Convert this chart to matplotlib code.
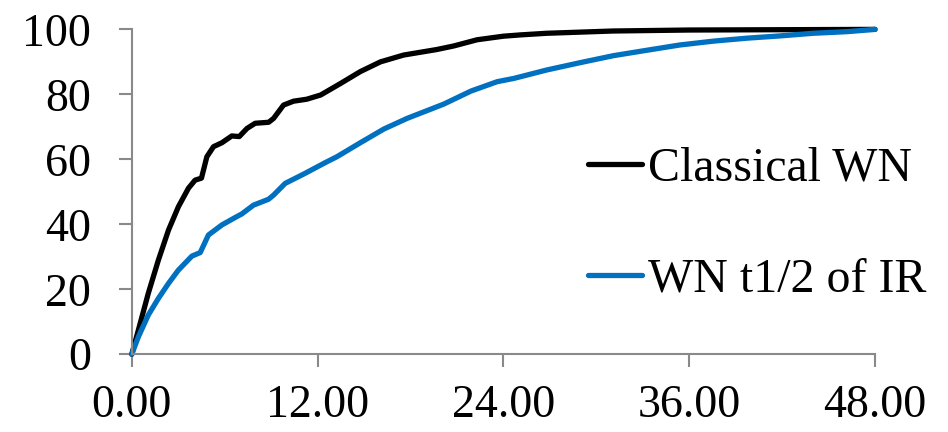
import matplotlib.pyplot as plt

# time (h) and cumulative % for each curve
t_classical = [0, 0.43, 1.07, 1.72, 2.37, 3.01, 3.66, 4.09, 4.5, 4.85, 5.28, 5.82, 6.46, 6.94,
               7.44, 7.97, 8.84, 9.16, 9.8, 10.45, 11.3, 12.2, 13.5, 14.76, 16.06, 17.56, 19.7,
               20.8, 22.3, 24.0, 25.1, 26.8, 31.1, 36.0, 42.0, 48.0]
classical = [0, 7.5, 18.8, 29, 38.2, 45.4, 51.1, 53.6, 54.2, 60.8, 63.9, 65.1, 67.2, 67.0,
             69.5, 71.1, 71.4, 72.6, 76.7, 77.9, 78.5, 79.8, 83.4, 87, 90, 92.1, 93.8,
             94.9, 96.8, 97.9, 98.3, 98.8, 99.5, 99.8, 99.9, 100]

t_half = [0, 0.43, 1.07, 1.72, 2.37, 3.01, 3.88, 4.42, 4.95, 5.82, 6.68, 7.11, 7.86, 8.83,
          9.16, 9.91, 11.2, 12.5, 13.25, 14.76, 16.27, 17.78, 20.15, 21.9, 23.6, 24.67, 26.8,
          29.0, 31.1, 33.3, 35.4, 37.6, 39.75, 41.9, 44.0, 46.2, 48.0]
half = [0, 5.4, 12.1, 17.2, 21.8, 25.9, 30.2, 31.3, 36.7, 39.8, 42.1, 43.2, 45.9, 47.7,
        49, 52.6, 55.7, 59, 60.8, 65.1, 69.3, 72.6, 77, 81, 83.9, 84.9, 87.5,
        89.8, 91.9, 93.6, 95.2, 96.4, 97.3, 98.0, 98.8, 99.3, 100]

xticks = [0, 12, 24, 36, 48]
yticks = [0, 20, 40, 60, 80, 100]

plt.rcParams['font.family'] = 'Liberation Serif'
plt.rcParams['font.size'] = 33

fig = plt.figure(figsize=(9.48, 4.32), dpi=100)
ax = fig.add_axes([0.139, 0.180, 0.784, 0.752])

ax.plot(t_classical, classical, color='black', lw=3.8, label='Classical WN', clip_on=False,
        solid_capstyle='round', solid_joinstyle='round')
ax.plot(t_half, half, color='#0070C0', lw=3.8, label='WN t1/2 of IR', clip_on=False,
        solid_capstyle='round', solid_joinstyle='round')

ax.set_xlim(0, 48)
ax.set_ylim(0, 100)
ax.set_xticks(xticks)
ax.set_xticklabels(['%.2f' % x for x in xticks])
ax.set_yticks(yticks)

for s in ['top', 'right']:
    ax.spines[s].set_visible(False)
for s in ['left', 'bottom']:
    ax.spines[s].set_color('#898989')
    ax.spines[s].set_linewidth(1.5)
ax.tick_params(axis='both', direction='out', length=9.5, width=1.5, color='#898989')
ax.tick_params(axis='x', pad=12)
ax.tick_params(axis='y', pad=20)

ax.legend(loc='center left', bbox_to_anchor=(0.620, 0.481), bbox_transform=fig.transFigure,
          frameon=False, borderpad=0, borderaxespad=0, handlelength=1.13,
          handletextpad=0.12, labelspacing=1.4, fontsize=34.5)

fig.savefig('out.png', dpi=100)
